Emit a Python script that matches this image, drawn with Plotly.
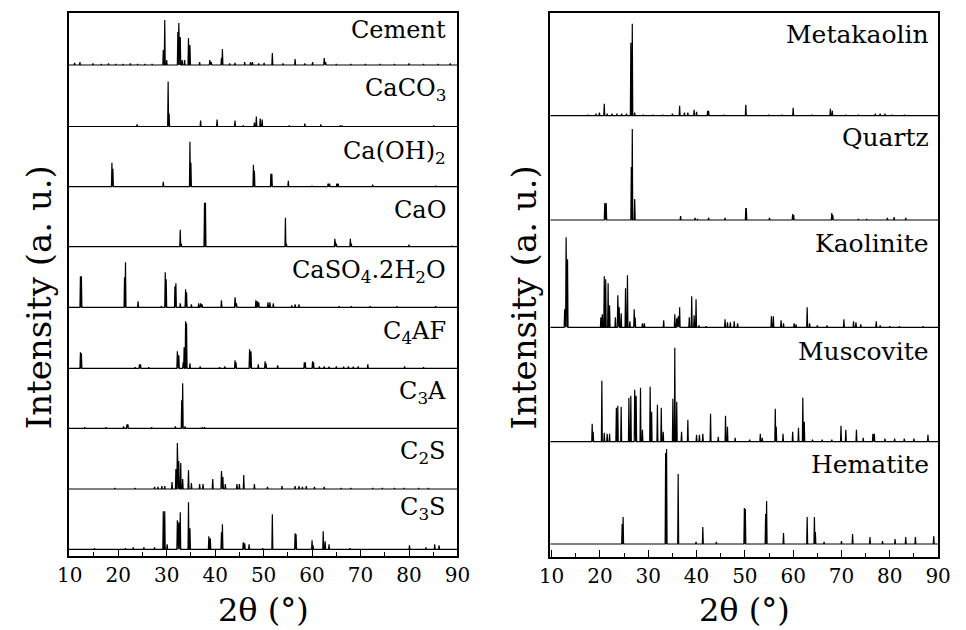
import plotly.graph_objects as go

# ---------------- data (2θ positions in degrees, relative intensities) ----------------
cement_pos = [11.0, 12.1, 14.8, 16.5, 18.0, 19.5, 21.0, 22.5, 24.0, 25.5, 27.0, 29.3, 29.6, 30.0, 32.3, 32.5, 32.8,
              33.2, 33.7, 34.5, 34.8, 36.8, 38.9, 39.2, 41.3, 41.5, 43.0, 44.1, 46.1, 47.3, 47.7, 49.0, 50.1, 51.8,
              54.0, 56.5, 58.5, 60.1, 62.5, 62.8, 65.0, 68.0, 71.0, 74.0, 77.0, 80.0, 83.0, 86.0, 88.5]
cement_int = [2, 3, 1.5, 1, 1.5, 1, 1, 1.5, 1, 1, 1, 15, 45, 5, 33, 42, 28, 5, 5, 27, 20, 3, 5, 3, 7, 16, 1.5, 2, 3,
              3, 3, 1.5, 2, 12, 1.5, 6, 1.5, 3, 7, 3, 1, 1, 1, 1, 1, 1.5, 1, 1, 1.5]

caco3_pos = [23.9, 30.3, 30.5, 37.0, 40.4, 44.1, 45.8, 48.1, 48.5, 49.3, 49.7, 55.3, 58.5, 61.8, 65.8, 66.2, 85.1]
caco3_int = [2, 45, 13, 6, 7, 6, 1, 4, 10, 8, 7, 1, 3, 2, 1, 1, 1]

caoh2_pos = [18.7, 18.9, 29.3, 34.8, 35.0, 47.9, 48.1, 51.5, 51.7, 55.1, 60.0, 63.3, 63.6, 65.1, 65.4, 72.5, 85.5]
caoh2_int = [24, 18, 5, 45, 24, 22, 16, 13, 13, 6, 1, 3, 3, 3, 3, 2, 1]

cao_pos = [32.8, 33.0, 37.8, 38.0, 54.5, 54.7, 64.7, 65.0, 67.9, 68.1, 80.0, 88.9]
cao_int = [17, 3, 44, 44, 29, 3, 8, 3, 8, 3, 2, 1]

gypsum_pos = [12.2, 12.4, 21.3, 21.5, 24.1, 28.9, 29.7, 29.9, 31.7, 31.9, 32.8, 33.9, 34.1, 35.1, 36.6, 37.0, 37.3,
              41.3, 44.1, 44.4, 48.4, 48.7, 49.0, 50.9, 51.3, 52.0, 55.8, 56.5, 57.3, 65.6, 68.1, 72.0, 77.5, 85.5]
gypsum_int = [31, 31, 30, 45, 6, 1, 35, 28, 21, 24, 4, 18, 15, 3, 4, 4, 3, 7, 10, 4, 7, 6, 5, 5, 5, 4, 2, 3, 3, 1,
              1, 1, 1, 1]

c4af_pos = [12.2, 12.4, 23.5, 24.4, 24.6, 26.3, 32.2, 32.5, 33.4, 33.6, 33.9, 34.1, 34.8, 36.9, 40.9, 42.0, 44.1,
            44.3, 47.1, 47.4, 48.9, 50.3, 50.5, 52.9, 58.4, 58.6, 60.1, 60.3, 61.5, 62.5, 63.5, 65.0, 66.5, 67.5,
            68.5, 69.5, 71.5, 79.1, 83.0]
c4af_int = [16, 15, 1, 4, 4, 1, 17, 13, 6, 21, 47, 45, 5, 2, 1, 2, 8, 6, 19, 17, 4, 7, 5, 3, 6, 6, 7, 6, 2, 2, 1.5,
            2, 1.5, 2, 1.5, 2, 4, 2, 1]

c3a_pos = [13.1, 17.5, 21.1, 21.8, 22.0, 26.9, 31.8, 33.1, 33.3, 33.8, 37.3, 37.8]
c3a_int = [1, 1, 2, 4, 4, 1, 2, 28, 45, 2, 1, 1]

c2s_pos = [19.3, 23.5, 27.5, 28.2, 29.0, 29.6, 31.1, 31.9, 32.2, 32.5, 32.9, 33.3, 34.5, 35.1, 36.8, 37.5, 39.5,
           41.3, 41.6, 42.1, 44.5, 45.0, 45.9, 48.1, 50.8, 53.8, 56.5, 57.3, 58.0, 58.8, 60.5, 62.5, 66.0, 68.0,
           72.5, 74.5, 77.0, 79.0, 82.0, 84.0]
c2s_int = [1, 1, 2, 2, 3, 3, 7, 20, 46, 28, 26, 10, 19, 6, 5, 5, 10, 18, 12, 5, 5, 5, 14, 5, 2, 3, 3, 3, 2, 3, 2, 2,
           1, 1, 1, 1, 1, 1, 1, 1]

c3s_pos = [15.1, 21.5, 23.1, 25.3, 27.5, 29.3, 29.6, 30.1, 32.2, 32.5, 32.8, 34.5, 34.8, 38.7, 39.0, 41.3, 41.5,
           45.8, 46.1, 47.0, 49.8, 51.8, 56.5, 56.7, 60.0, 60.2, 62.3, 62.7, 63.5, 67.8, 80.1, 83.5, 85.3, 86.2]
c3s_int = [1, 1, 2, 2, 2, 38, 38, 5, 29, 27, 37, 47, 21, 13, 11, 17, 25, 7, 6, 5, 1, 35, 16, 15, 9, 4, 18, 8, 5, 1,
           4, 2, 5, 4]

metakaolin_pos = [17.5, 19.2, 19.9, 20.9, 21.5, 22.5, 23.5, 24.5, 25.5, 26.4, 26.7, 27.2, 29.0, 31.0, 33.0, 35.0,
                  36.5, 37.5, 38.2, 39.5, 40.0, 42.3, 42.5, 45.7, 50.2, 54.9, 57.7, 60.0, 63.9, 67.7, 68.1, 70.9,
                  73.5, 77.0, 78.0, 79.0, 80.5, 83.0]
metakaolin_int = [1, 2, 3, 12, 2, 2, 2, 2, 2, 73, 92, 3, 1, 1, 1, 2, 10, 3, 3, 6, 4, 5, 5, 1, 11, 1, 1, 8, 1, 7, 5,
                  1, 1, 2, 2, 2, 1, 1]

quartz_pos = [21.0, 21.3, 26.5, 26.7, 27.2, 36.7, 39.7, 40.2, 42.5, 45.9, 50.2, 50.3, 55.1, 59.9, 60.1, 68.0, 68.2,
              73.5, 75.2, 79.5, 80.9, 83.3]
quartz_int = [17, 17, 53, 91, 21, 4, 2, 1, 2, 2, 12, 12, 2, 6, 5, 7, 5, 1, 1, 2, 3, 2]

kaolinite_pos = [12.7, 13.0, 13.3, 20.2, 20.5, 20.9, 21.2, 21.7, 22.0, 23.2, 23.7, 24.0, 24.4, 25.3, 25.7, 26.2,
                 27.1, 27.3, 28.8, 29.2, 33.2, 35.5, 35.9, 36.2, 36.5, 38.5, 39.0, 39.5, 39.9, 40.5, 42.0, 45.9,
                 46.4, 47.0, 47.8, 48.5, 55.5, 55.9, 57.5, 58.0, 60.2, 60.6, 62.9, 63.4, 65.0, 67.0, 70.5, 72.5,
                 73.0, 74.0, 77.2, 78.0, 80.0, 82.0, 86.9]
kaolinite_int = [18, 90, 68, 10, 13, 51, 48, 44, 22, 10, 32, 20, 14, 39, 52, 6, 18, 10, 4, 4, 7, 13, 9, 11, 20, 10,
                 31, 12, 28, 2, 1, 8, 5, 5, 6, 4, 11, 11, 7, 4, 4, 3, 20, 4, 2, 2, 8, 6, 5, 3, 6, 2, 1, 1, 1]

muscovite_pos = [18.4, 18.6, 20.4, 20.9, 21.5, 22.0, 23.4, 23.7, 24.4, 26.0, 26.4, 27.2, 27.5, 28.4, 28.8, 30.4,
                 30.7, 31.9, 32.7, 33.1, 35.1, 35.5, 35.9, 36.9, 38.2, 40.0, 40.6, 41.3, 42.9, 44.5, 46.0, 46.4,
                 48.0, 51.0, 53.2, 53.6, 56.3, 56.5, 57.9, 59.9, 61.1, 62.0, 62.3, 64.0, 66.0, 68.0, 69.9, 70.9,
                 73.1, 74.5, 76.5, 76.8, 79.0, 81.0, 83.0, 85.0, 87.9]
muscovite_int = [18, 10, 61, 9, 8, 8, 34, 36, 35, 44, 46, 52, 46, 54, 12, 55, 30, 37, 34, 10, 43, 94, 40, 10, 22, 7,
                 7, 8, 28, 5, 26, 15, 4, 2, 8, 4, 33, 15, 8, 10, 14, 44, 20, 2, 2, 2, 16, 12, 12, 4, 8, 8, 3, 3, 3,
                 3, 7]

hematite_pos = [24.6, 24.8, 33.6, 33.8, 36.2, 39.9, 41.3, 44.1, 49.9, 50.1, 54.3, 54.5, 58.0, 62.9, 64.4, 64.6,
                66.4, 70.0, 72.3, 75.9, 78.5, 81.1, 83.3, 85.3, 89.1]
hematite_int = [20, 27, 91, 95, 70, 2, 17, 2, 36, 35, 30, 43, 11, 27, 27, 12, 2, 3, 10, 7, 3, 5, 7, 7, 8]

left_names = ["Cement", "CaCO<sub>3</sub>", "Ca(OH)<sub>2</sub>", "CaO", "CaSO<sub>4</sub>.2H<sub>2</sub>O",
              "C<sub>4</sub>AF", "C<sub>3</sub>A", "C<sub>2</sub>S", "C<sub>3</sub>S"]
left_data = [(cement_pos, cement_int), (caco3_pos, caco3_int), (caoh2_pos, caoh2_int), (cao_pos, cao_int),
             (gypsum_pos, gypsum_int), (c4af_pos, c4af_int), (c3a_pos, c3a_int), (c2s_pos, c2s_int),
             (c3s_pos, c3s_int)]
right_names = ["Metakaolin", "Quartz", "Kaolinite", "Muscovite", "Hematite"]
right_data = [(metakaolin_pos, metakaolin_int), (quartz_pos, quartz_int), (kaolinite_pos, kaolinite_int),
              (muscovite_pos, muscovite_int), (hematite_pos, hematite_int)]

x_ticks = [10, 20, 30, 40, 50, 60, 70, 80, 90]

# ---------------- layout constants ----------------
W, H = 966, 630
FONT = "DejaVu Serif"
left_offsets = [491, 429.5, 369.3, 309.3, 248.7, 187.7, 127.7, 67, 6.7]
right_offsets = [441.3, 337, 229.7, 115.3, 13]
left_label_y = [30, 90, 152, 210, 271, 332, 392, 452, 508]
right_label_y = [34, 137, 244, 351, 464]


def stick_profile(pos, inten, offset, w=0.1):
    pairs = sorted(zip(pos, inten))
    xs, ys = [9.0], [offset]
    for p, h in pairs:
        xs += [p - w, p, p + w]
        ys += [offset, offset + h, offset]
    xs.append(91.0)
    ys.append(offset)
    return xs, ys


fig = go.Figure()
for (pos, inten), off in zip(left_data, left_offsets):
    xs, ys = stick_profile(pos, inten, off)
    fig.add_trace(go.Scatter(x=xs, y=ys, mode="lines", line=dict(color="black", width=1.2),
                             xaxis="x", yaxis="y", showlegend=False, hoverinfo="skip"))
for (pos, inten), off in zip(right_data, right_offsets):
    xs, ys = stick_profile(pos, inten, off)
    fig.add_trace(go.Scatter(x=xs, y=ys, mode="lines", line=dict(color="black", width=1.2),
                             xaxis="x2", yaxis="y2", showlegend=False, hoverinfo="skip"))

xcommon = dict(tickvals=x_ticks, ticktext=[str(v) for v in x_ticks], ticks="inside", ticklen=7, tickwidth=1,
               tickcolor="black", showline=True, linecolor="black", linewidth=2, mirror=True, showgrid=False,
               zeroline=False, tickfont=dict(family=FONT, size=20, color="black"),
               minor=dict(tickvals=[15, 25, 35, 45, 55, 65, 75, 85], ticks="inside", ticklen=4,
                          tickwidth=1, tickcolor="black"))
ycommon = dict(showticklabels=False, ticks="", showline=True, linecolor="black", linewidth=2, mirror=True,
               showgrid=False, zeroline=False)

fig.update_layout(
    width=W, height=H, margin=dict(l=0, r=0, t=0, b=0),
    paper_bgcolor="white", plot_bgcolor="white",
    font=dict(family=FONT, color="black"),
    xaxis=dict(domain=[58.3 / W, 457.3 / W], range=[9.8, 90.0], anchor="y", **xcommon),
    yaxis=dict(domain=[1 - 556 / H, 1 - 13 / H], range=[0, 543], anchor="x", **ycommon),
    xaxis2=dict(domain=[552.7 / W, 950.7 / W], range=[9.75, 90.0], anchor="y2", **xcommon),
    yaxis2=dict(domain=[1 - 557 / H, 1 - 13 / H], range=[0, 544], anchor="x2", **ycommon),
)

ann = []
for name, yc in zip(left_names, left_label_y):
    ann.append(dict(text=name, x=448 / W, y=1 - yc / H, xref="paper", yref="paper", xanchor="right",
                    yanchor="middle", showarrow=False, font=dict(family=FONT, size=24, color="black")))
for name, yc in zip(right_names, right_label_y):
    ann.append(dict(text=name, x=943 / W, y=1 - yc / H, xref="paper", yref="paper", xanchor="right",
                    yanchor="middle", showarrow=False, font=dict(family=FONT, size=25, color="black")))
for xc in (28, 526):
    ann.append(dict(text="Intensity (a. u.)", x=xc / W, y=1 - 297 / H, xref="paper", yref="paper",
                    xanchor="center", yanchor="middle", textangle=-90, showarrow=False,
                    font=dict(family=FONT, size=34, color="black")))
for xc in (257.8, 751.7):
    ann.append(dict(text="2θ (°)", x=xc / W, y=1 - 610 / H, xref="paper", yref="paper",
                    xanchor="center", yanchor="middle", showarrow=False,
                    font=dict(family=FONT, size=32, color="black")))
fig.update_layout(annotations=ann)

fig.write_html("out.html")
